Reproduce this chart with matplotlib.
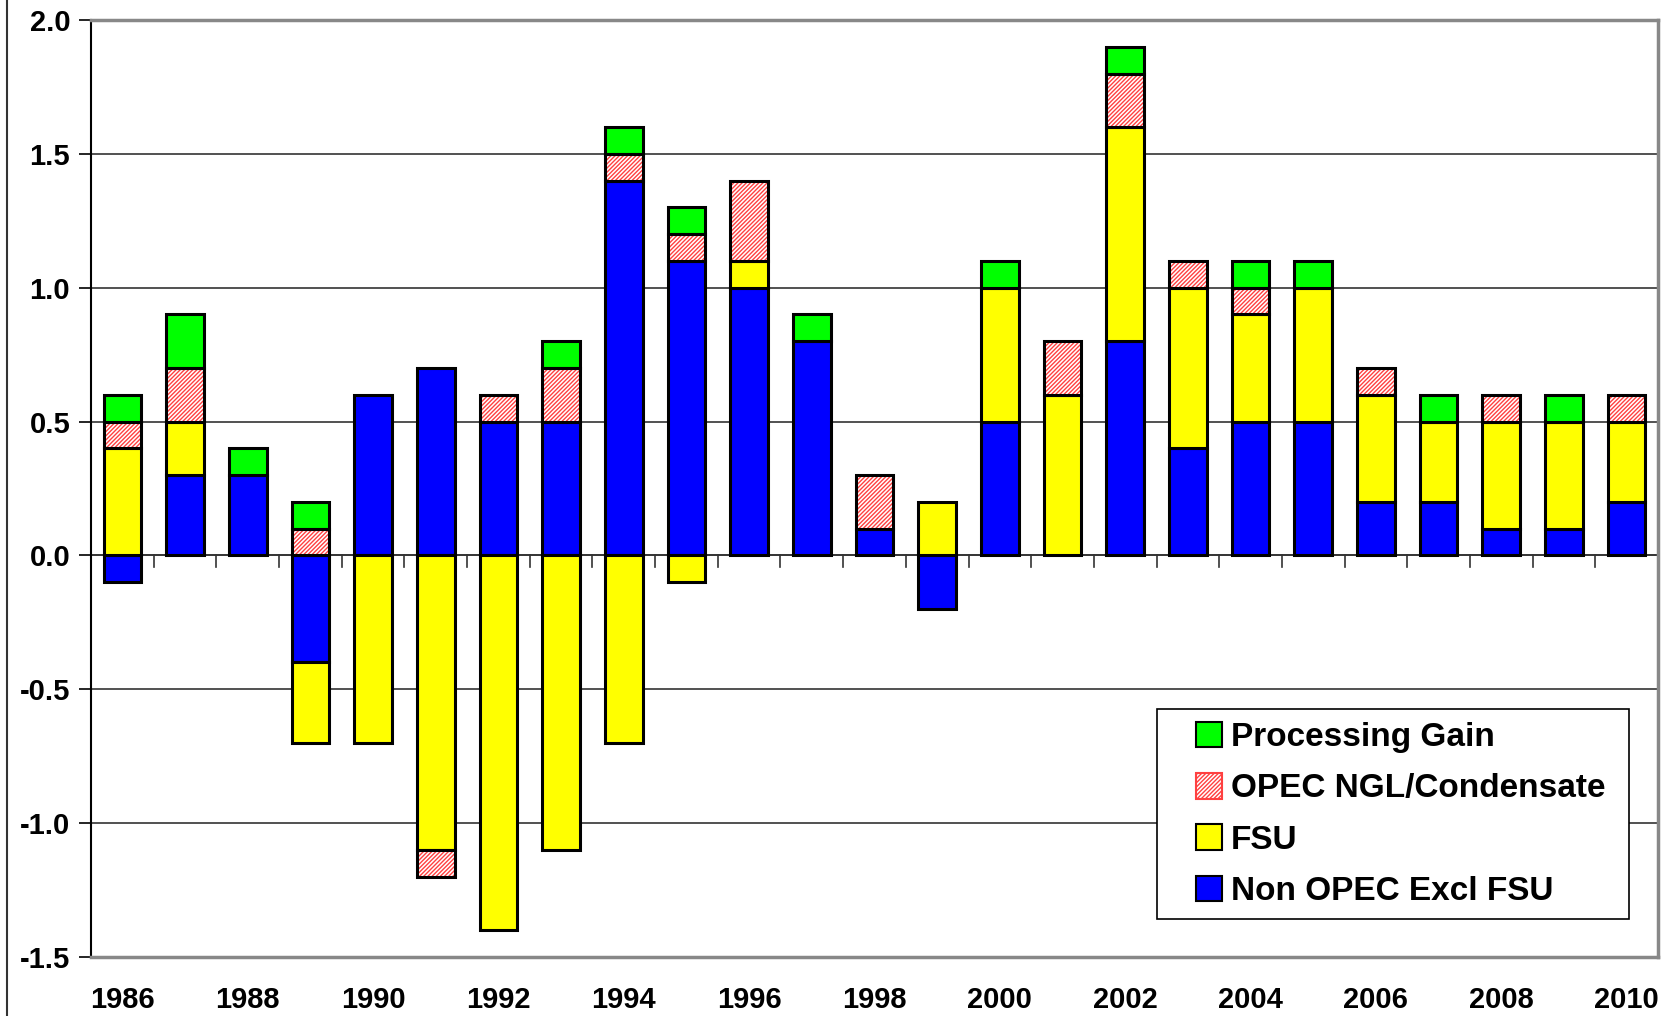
import numpy as np
import matplotlib
matplotlib.use('Agg')
from matplotlib import pyplot as plt
from matplotlib.patches import Patch, Rectangle
from matplotlib.lines import Line2D

plt.rcParams['font.family'] = ['Liberation Sans', 'DejaVu Sans']
plt.rcParams['font.weight'] = 'bold'
plt.rcParams['hatch.linewidth'] = 1.0

years = list(range(1986, 2011))
non_opec = [-0.1, 0.3, 0.3, -0.4, 0.6, 0.7, 0.5, 0.5, 1.4, 1.1, 1.0, 0.8, 0.1,
            -0.2, 0.5, 0.0, 0.8, 0.4, 0.5, 0.5, 0.2, 0.2, 0.1, 0.1, 0.2]
fsu = [0.4, 0.2, 0.0, -0.3, -0.7, -1.1, -1.4, -1.1, -0.7, -0.1, 0.1, 0.0, 0.0,
       0.2, 0.5, 0.6, 0.8, 0.6, 0.4, 0.5, 0.4, 0.3, 0.4, 0.4, 0.3]
opec_ngl = [0.1, 0.2, 0.0, 0.1, 0.0, -0.1, 0.1, 0.2, 0.1, 0.1, 0.3, 0.0, 0.2,
            0.0, 0.0, 0.2, 0.2, 0.1, 0.1, 0.0, 0.1, 0.0, 0.1, 0.0, 0.1]
proc_gain = [0.1, 0.2, 0.1, 0.1, 0.0, 0.0, 0.0, 0.1, 0.1, 0.1, 0.0, 0.1, 0.0,
             0.0, 0.1, 0.0, 0.1, 0.0, 0.1, 0.1, 0.0, 0.1, 0.0, 0.1, 0.0]

series = [
    ('Non OPEC Excl FSU', non_opec, '#0000ff', None),
    ('FSU', fsu, '#ffff00', None),
    ('OPEC NGL/Condensate', opec_ngl, '#ffffff', '////////'),
    ('Processing Gain', proc_gain, '#00ff00', None),
]

fig = plt.figure(figsize=(16.74, 10.16), dpi=100)
ax = fig.add_axes([0.0544, 0.0581, 0.9360, 0.9222])

x = np.arange(len(years))
width = 0.6
pos_base = np.zeros(len(years))
neg_base = np.zeros(len(years))
for name, vals, color, hatch in series:
    vals = np.array(vals)
    bottoms = np.where(vals >= 0, pos_base, neg_base)
    mask = vals != 0
    if hatch:
        # red hatch first, black outline on top
        ax.bar(x[mask], vals[mask], width, bottom=bottoms[mask], color='white',
               edgecolor='#ff4040', hatch=hatch, linewidth=0, zorder=3)
        ax.bar(x[mask], vals[mask], width, bottom=bottoms[mask], fill=False,
               edgecolor='black', linewidth=2.2, zorder=4)
    else:
        ax.bar(x[mask], vals[mask], width, bottom=bottoms[mask], color=color,
               edgecolor='black', linewidth=2.2, zorder=3)
    pos_base = pos_base + np.where(vals > 0, vals, 0)
    neg_base = neg_base + np.where(vals < 0, vals, 0)

ax.set_xlim(-0.5, len(years) - 0.5)
ax.set_ylim(-1.5, 2.0)
yt = np.arange(-1.5, 2.01, 0.5)
ax.set_yticks(yt)
ax.set_yticklabels(['%.1f' % v for v in yt], fontsize=21, fontweight='bold')
ax.tick_params(axis='y', length=9, width=1.2, direction='out', pad=6)
ax.yaxis.grid(True, color='#333333', linewidth=1.2, zorder=0)
ax.set_axisbelow(True)

ax.set_xticks(x[::2])
ax.set_xticklabels([str(y) for y in years[::2]], fontsize=21, fontweight='bold')
ax.tick_params(axis='x', length=0, pad=21)

# zero line tick marks between categories
for b in np.arange(0.5, len(years) - 0.5, 1.0):
    ax.plot([b, b], [0, -0.045], color='#333333', lw=1.2, zorder=2)
ax.axhline(0, color='#333333', lw=1.2, zorder=2)

for s in ['top', 'right', 'bottom']:
    ax.spines[s].set_color('#888888')
    ax.spines[s].set_linewidth(2.5)
ax.spines['left'].set_color('black')
ax.spines['left'].set_linewidth(1.5)

# legend frame drawn separately so padding matches
ax.add_patch(Rectangle((0.680, 0.040), 0.3016, 0.2245, transform=ax.transAxes,
                       facecolor='white', edgecolor='black', linewidth=1.2, zorder=5))

handles = [Patch(facecolor='#00ff00', edgecolor='black', linewidth=1.5),
           Patch(facecolor='white', edgecolor='#ff4040', hatch='////////', linewidth=1.5),
           Patch(facecolor='#ffff00', edgecolor='black', linewidth=1.5),
           Patch(facecolor='#0000ff', edgecolor='black', linewidth=1.5)]
labels = ['Processing Gain', 'OPEC NGL/Condensate', 'FSU', 'Non OPEC Excl FSU']
leg = ax.legend(handles, labels, loc='center left', bbox_to_anchor=(0.705, 0.1522),
                fontsize=24, frameon=False,
                handlelength=0.8, handleheight=0.8, handletextpad=0.25,
                labelspacing=0.6, borderpad=0, borderaxespad=0)
leg.set_zorder(6)
for t in leg.get_texts():
    t.set_fontweight('bold')

fig.add_artist(Line2D([7 / 1674, 7 / 1674], [0, 1], color='#333333', lw=1.5,
                      transform=fig.transFigure))

fig.savefig('out.png', dpi=100)
